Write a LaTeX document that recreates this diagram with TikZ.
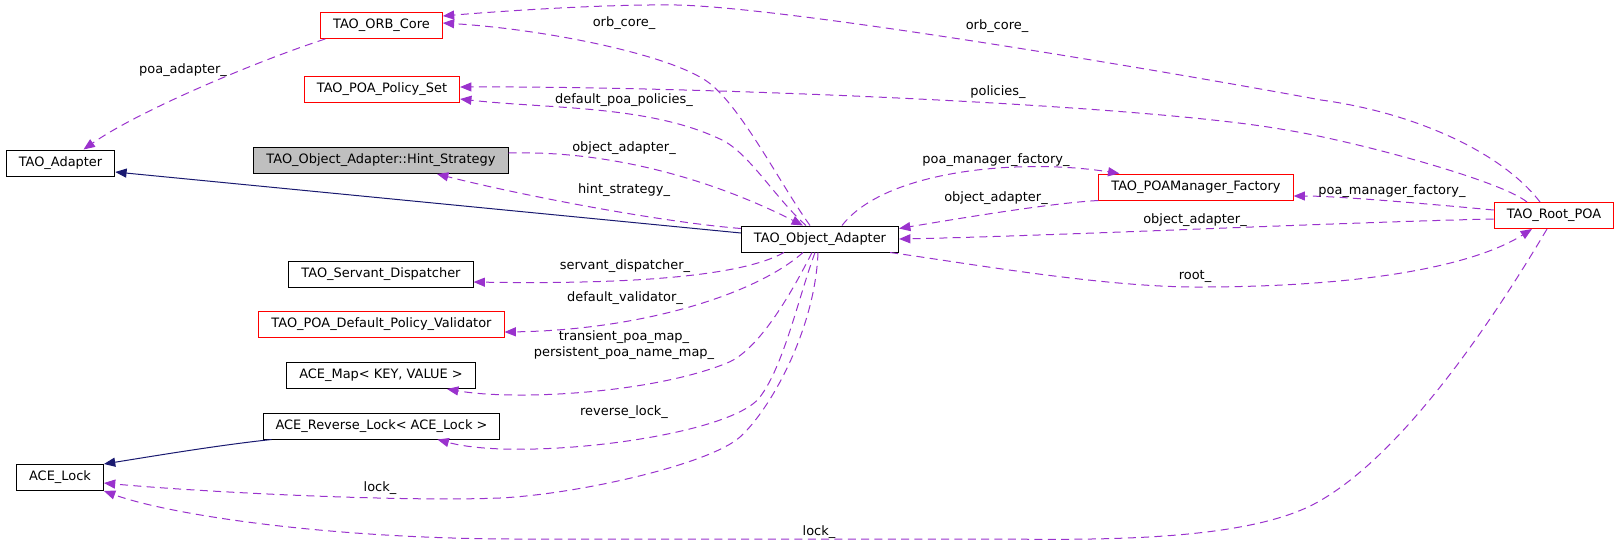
\documentclass[tikz,border=0pt]{standalone}
\usepackage{fontspec}
\setmainfont{DejaVu Sans}
\usetikzlibrary{arrows.meta,calc}
\definecolor{usecol}{RGB}{154,50,205}
\definecolor{inhcol}{RGB}{25,25,112}
\definecolor{boxred}{RGB}{255,0,0}
\definecolor{hintgray}{RGB}{191,191,191}

\begin{document}
\begin{tikzpicture}[x=0.75pt,y=0.75pt,yscale=-1,xscale=1,
  font=\fontsize{9.7}{11.6}\selectfont,
  cls/.style={draw=black,line width=0.75pt,minimum height=19.5pt,inner xsep=9.4pt,inner ysep=0pt,text height=7pt,text depth=2.2pt},
  redcls/.style={cls,draw=boxred},
  usedge/.style={draw=usecol,line width=0.75pt,dash pattern=on 6pt off 4pt,-{Triangle[length=8.5pt,width=6.8pt,fill=usecol]}},
  inhedge/.style={draw=inhcol,line width=0.75pt,-{Triangle[length=8.5pt,width=6.8pt,fill=inhcol]}},
  lbl/.style={inner sep=0pt,text height=7pt,text depth=2.2pt}]
\path[use as bounding box] (0,0) rectangle (1619,544);

% Class Nodes
\node[redcls] (orbcore) at (381.5,25.5) {TAO\_ORB\_Core};
\node[redcls] (policyset) at (382,89.5) {TAO\_POA\_Policy\_Set};
\node[cls] (adapter) at (60.5,163) {TAO\_Adapter};
\node[cls,fill=hintgray] (hint) at (381,160.5) {TAO\_Object\_Adapter::Hint\_Strategy};
\node[cls] (objadapter) at (820,239) {TAO\_Object\_Adapter};
\node[cls] (servant) at (381,274) {TAO\_Servant\_Dispatcher};
\node[redcls] (validator) at (381.5,324.5) {TAO\_POA\_Default\_Policy\_Validator};
\node[cls] (acemap) at (381,375.5) {ACE\_Map< KEY, VALUE >};
\node[cls] (revlock) at (381.5,426) {ACE\_Reverse\_Lock< ACE\_Lock >};
\node[cls] (acelock) at (60,477.5) {ACE\_Lock};
\node[redcls] (factory) at (1196,187) {TAO\_POAManager\_Factory};
\node[redcls] (rootpoa) at (1554,215.5) {TAO\_Root\_POA};

% Inheritance
\draw[inhedge] ($(objadapter.west)+(0,-6)$) -- ($(adapter.east)+(0,9)$);
\draw[inhedge] ($(revlock.south west)+(9,0)$) .. controls (220,445) and (160,455) .. (acelock.north east);

% Curve Lines
\draw[usedge] ($(orbcore.south west)+(5,0)$) .. controls (260,60) and (140,110) .. ($(adapter.north)+(23,0)$);
\draw[usedge] ($(objadapter.north)+(-10,0)$) .. controls (780,184) and (739,102) .. (705,80) .. controls (663,53) and (542,29) .. ($(orbcore.east)+(0,-2.5)$);
\draw[usedge] ($(rootpoa.north)+(-14,0)$) .. controls (1500,150) and (1410,112) .. (1321,100) .. controls (1203,78) and (800,8) .. (677,5) .. controls (600,4) and (490,12) .. ($(orbcore.east)+(0,-9.5)$);
\draw[usedge] ($(objadapter.north)+(-14,0)$) .. controls (776,199) and (749,153) .. (722,140) .. controls (650,105) and (550,109) .. ($(policyset.east)+(0,9.5)$);
\draw[usedge] ($(rootpoa.north)+(-27,0)$) .. controls (1500,180) and (1350,140) .. (1286,130) .. controls (1150,105) and (700,86) .. ($(policyset.east)+(0,-2.5)$);
\draw[usedge] ($(hint.east)+(0,-7.5)$) .. controls (620,150) and (723,185) .. ($(objadapter.north)+(-17,0)$);
\draw[usedge] ($(objadapter.north west)+(0,3)$) .. controls (660,222) and (520,195) .. ($(hint.south)+(56,0)$);
\draw[usedge] ($(objadapter.north)+(22,0)$) .. controls (885,170) and (1020,158) .. ($(factory.north west)+(21,0)$);
\draw[usedge] (factory.south west) .. controls (1050,203) and (950,220) .. ($(objadapter.north east)+(0,3)$);
\draw[usedge] ($(rootpoa.west)+(0,-5.5)$) .. controls (1440,205) and (1340,196) .. ($(factory.east)+(0,9)$);
\draw[usedge] ($(rootpoa.west)+(0,3.5)$) .. controls (1350,222) and (1050,236) .. (objadapter.east);
\draw[usedge] ($(objadapter.south east)+(-9,0)$) .. controls (960,262) and (1100,287) .. (1197,287) .. controls (1380,287) and (1480,262) .. ($(rootpoa.south)+(-22,0)$);
\draw[usedge] ($(objadapter.south)+(-36,0)$) .. controls (735,280) and (600,284) .. ($(servant.east)+(0,8)$);
\draw[usedge] ($(objadapter.south)+(-17,0)$) .. controls (755,295) and (640,330) .. ($(validator.east)+(0,7.5)$);
\draw[usedge] ($(objadapter.south)+(-8,0)$) .. controls (794,288) and (760,350) .. (727,363) .. controls (653,393) and (517,401) .. ($(acemap.south)+(66,0)$);
\draw[usedge] ($(objadapter.south)+(-5,0)$) .. controls (798,299) and (784,365) .. (760,397) .. controls (730,437) and (520,462) .. ($(revlock.south)+(56,0)$);
\draw[usedge] ($(objadapter.south)+(-2,0)$) .. controls (815,330) and (770,410) .. (740,437) .. controls (710,464) and (580,494) .. (500,498) .. controls (400,502) and (200,492) .. ($(acelock.east)+(0,5.5)$);
\draw[usedge] ($(rootpoa.south)+(-7,0)$) .. controls (1496,315) and (1404,455) .. (1316,503) .. controls (1246,541) and (1100,540) .. (1000,539) -- (520,539) .. controls (330,539) and (170,515) .. (acelock.south east);

% Text Node
\node[lbl] (lpoaadapter) at (183,70) {poa\_adapter\_};
\node[lbl] (lorbcorea) at (624,23) {orb\_core\_};
\node[lbl] (lorbcoreb) at (997,26) {orb\_core\_};
\node[lbl] (lpolicies) at (998,92) {policies\_};
\node[lbl] (ldefpolicies) at (624,100) {default\_poa\_policies\_};
\node[lbl] (lobjadaptera) at (624,148) {object\_adapter\_};
\node[lbl] (lhint) at (624,190) {hint\_strategy\_};
\node[lbl] (lfactorya) at (996,160) {poa\_manager\_factory\_};
\node[lbl] (lobjadapterb) at (996,198) {object\_adapter\_};
\node[lbl] (lfactoryb) at (1392,191) {poa\_manager\_factory\_};
\node[lbl] (lobjadapterc) at (1195,220) {object\_adapter\_};
\node[lbl] (lroot) at (1195,276) {root\_};
\node[lbl] (lservant) at (625,266) {servant\_dispatcher\_};
\node[lbl] (lvalidator) at (625,298) {default\_validator\_};
\node[lbl,align=center] (lpoamap) at (624,353) {transient\_poa\_map\_\\persistent\_poa\_name\_map\_};
\node[lbl] (lrevlock) at (624,412) {reverse\_lock\_};
\node[lbl] (llocka) at (380,488) {lock\_};
\node[lbl] (llockb) at (819,532) {lock\_};

\end{tikzpicture}
\end{document}
